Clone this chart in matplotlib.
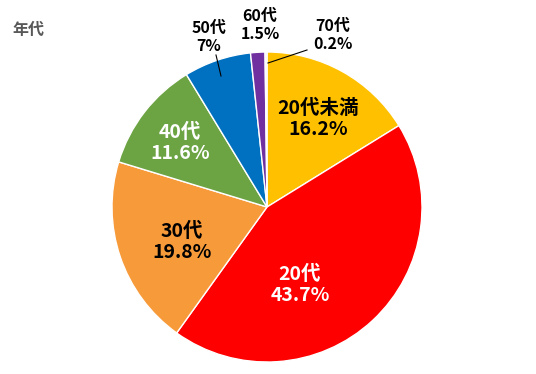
import matplotlib
matplotlib.use("Agg")
import matplotlib.pyplot as plt

plt.rcParams['font.family'] = ['Noto Sans CJK JP', 'DejaVu Sans']

# data, clockwise from 12 o'clock
age_groups = ["20代未満", "20代", "30代", "40代", "50代", "60代", "70代"]
shares = [16.2, 43.7, 19.8, 11.6, 7, 1.5, 0.2]
share_labels = ["16.2%", "43.7%", "19.8%", "11.6%", "7%", "1.5%", "0.2%"]
slice_colors = ["#FFC000", "#FF0000", "#F79A3A", "#6CA444", "#0070C0", "#7030A0", "#F2F2F2"]
label_colors = ["black", "white", "black", "white", "black", "black", "black"]

# label positions in pixels of the original picture (centre of the two-line text)
label_px = [(318, 119), (300, 285), (182, 242), (180, 143), (209, 37), (260, 25), (333, 35)]
# leader lines for outside labels: (label end, slice end)
leaders = {4: ((216, 55), (221, 76)), 6: ((307, 50), (268, 63))}

W, H = 536, 374
CX, CY, R = 267, 207, 155


def to_data(px, py):
    return (px - CX) / R, (CY - py) / R


fig = plt.figure(figsize=(W / 100, H / 100), dpi=100)
ax = fig.add_axes([(CX - R) / W, (H - CY - R) / H, 2 * R / W, 2 * R / H])

ax.pie(shares, colors=slice_colors, startangle=90, counterclock=False,
       wedgeprops=dict(edgecolor="white", linewidth=1))
ax.set_xlim(-1, 1)
ax.set_ylim(-1, 1)
ax.set_clip_on(False)

for i, name in enumerate(age_groups):
    x, y = to_data(*label_px[i])
    size = 14 if i < 4 else 11.5
    ax.text(x, y, f"{name}\n{share_labels[i]}", ha="center", va="center",
            color=label_colors[i], fontsize=size, fontweight="bold",
            linespacing=1.12, clip_on=False)

for i, (a, b) in leaders.items():
    xa, ya = to_data(*a)
    xb, yb = to_data(*b)
    ax.plot([xa, xb], [ya, yb], color="black", linewidth=0.8, clip_on=False)

fig.text(12 / W, 1 - 30 / H, "年代", color="#595959", fontsize=11.5,
         fontweight="bold", va="center", ha="left")

fig.savefig("out.png", dpi=100)
